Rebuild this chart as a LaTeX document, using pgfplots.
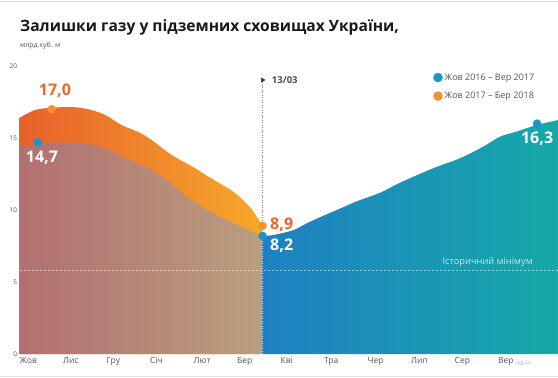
\documentclass[border=0pt]{standalone}
\usepackage{fontspec}
\setmainfont{Open Sans}
\usepackage{pgfplots}
\pgfplotsset{compat=1.18}
\definecolor{oL}{HTML}{E8602B}
\definecolor{oR}{HTML}{F6A82A}
\definecolor{brL}{HTML}{B27070}
\definecolor{brR}{HTML}{B99F7E}
\definecolor{bL}{HTML}{1E80C3}
\definecolor{bR}{HTML}{16A9A8}
\definecolor{dotB}{HTML}{1A96C6}
\definecolor{dotO}{HTML}{F2922E}
\definecolor{lblO}{HTML}{E8672C}
\definecolor{txt}{HTML}{555555}
\begin{document}
\begin{tikzpicture}
\path[use as bounding box] (0,0) rectangle (558bp,378bp);
\draw[gray!25, line width=1bp] (0,376.5bp) -- (558bp,376.5bp);
\draw[gray!25, line width=1bp] (0,1.5bp) -- (558bp,1.5bp);
\node[anchor=base west, inner sep=0pt, font=\bfseries\fontsize{15.6bp}{17bp}\selectfont, text=black!90] at (20bp,346bp) {Залишки газу у підземних сховищах України,};
\node[anchor=base west, inner sep=0pt, font=\fontsize{7bp}{8bp}\selectfont, text=txt] at (20bp,330bp) {млрд куб. м};
\begin{axis}[
  at={(19.5bp,24bp)}, anchor=south west,
  scale only axis, width=538.5bp, height=292bp,
  xmin=0, xmax=12.38, ymin=0, ymax=20.28,
  axis line style={draw=none}, tick style={draw=none},
  clip=false,
  /pgf/number format/assume math mode=true,
  ytick={0,5,10,15,20},
  yticklabel style={font=\fontsize{6.5bp}{7bp}\selectfont, text=txt, xshift=1bp},
  xtick={0,1,2,3,4,5,6,7,8,9,10,11},
  xticklabels={Жов,Лис,Гру,Січ,Лют,Бер,Кві,Тра,Чер,Лип,Сер,Вер},
  xticklabel style={font=\fontsize{8.5bp}{10bp}\selectfont, text=txt, anchor=north west, inner sep=0pt, yshift=-3.5bp},
  legend style={at={(0.768,0.968)}, anchor=north west, draw=none, fill=none,
     font=\fontsize{9bp}{10bp}\selectfont, text=txt, row sep=6.5bp, inner sep=0pt,
     legend cell align=left},
  legend image code/.code={\fill[#1] (0.25cm,0) circle (4.5bp);},
]
% orange 2017-2018
\addplot[draw=none, left color=oL, right color=oR, smooth, tension=0.55, forget plot] coordinates {
(0,16.4) (0.36,16.95) (0.74,17.1) (1.2,17.15) (1.58,17.0) (1.97,16.6) (2.35,15.9) (2.81,15.3) (3.11,14.7) (3.46,13.9) (3.8,13.3) (4.07,12.85) (4.3,12.4) (4.69,11.7) (4.99,11.1) (5.3,10.2) (5.45,9.55) (5.59,8.9)
} \closedcycle;
% brown 2016-2017 (to 13/03)
\addplot[draw=none, left color=brL, right color=brR, smooth, tension=0.55, forget plot] coordinates {
(0,14.4) (0.36,14.55) (0.82,14.7) (1.43,14.63) (1.74,14.5) (2.04,14.17) (2.43,13.6) (2.96,12.9) (3.2,12.45) (3.46,11.9) (3.77,11.1) (4.15,10.3) (4.53,9.65) (4.91,9.1) (5.22,8.65) (5.45,8.35) (5.59,8.2)
} \closedcycle;
% blue 2016-2017 (after 13/03)
\addplot[draw=none, left color=bL, right color=bR, smooth, tension=0.55, forget plot] coordinates {
(5.59,8.2) (5.83,8.26) (6.29,8.6) (6.6,9.07) (6.91,9.5) (7.37,10.1) (7.75,10.6) (8.29,11.2) (8.75,11.9) (9.51,12.9) (10.13,13.6) (10.66,14.4) (11.05,15.1) (11.43,15.45) (11.89,15.9) (12.38,16.25)
} \closedcycle;
% historic minimum
\addplot[white, opacity=0.55, line width=0.7bp, dash pattern=on 2bp off 2bp, forget plot] coordinates {(0,5.83) (12.38,5.83)};
% 13/03 line
\addplot[white, opacity=0.7, line width=0.8bp, dash pattern=on 1bp off 1.5bp, forget plot] coordinates {(5.59,0) (5.59,8.2)};
\addplot[gray, line width=0.8bp, dash pattern=on 1bp off 1.5bp, forget plot] coordinates {(5.59,8.9) (5.59,18.9)};
\addplot[only marks, mark=triangle*, mark size=2.2bp, mark options={rotate=-90, fill=black!70, draw=none}, forget plot] coordinates {(5.59,19.03)};
% dots
\addplot[only marks, mark=*, mark size=4bp, dotB, forget plot] coordinates {(0.42,14.7) (5.59,8.2) (11.9,16.0)};
\addplot[only marks, mark=*, mark size=4bp, dotO, forget plot] coordinates {(0.74,17.0) (5.59,8.9)};
\addlegendimage{dotB}
\addlegendentry{Жов 2016 – Вер 2017}
\addlegendimage{dotO}
\addlegendentry{Жов 2017 – Бер 2018}
% labels
\node[font=\bfseries\fontsize{16bp}{18bp}\selectfont, text=lblO] at (axis cs:0.816,18.26) {17,0};
\node[font=\bfseries\fontsize{16bp}{18bp}\selectfont, text=white] at (axis cs:0.517,13.6) {14,7};
\node[anchor=west, inner sep=0pt, font=\bfseries\fontsize{16bp}{18bp}\selectfont, text=lblO] at (axis cs:5.76,8.96) {8,9};
\node[anchor=west, inner sep=0pt, font=\bfseries\fontsize{16bp}{18bp}\selectfont, text=white] at (axis cs:5.76,7.5) {8,2};
\node[font=\bfseries\fontsize{16bp}{18bp}\selectfont, text=white] at (axis cs:11.9,14.93) {16,3};
\node[anchor=west, inner sep=0pt, font=\bfseries\fontsize{9.5bp}{10bp}\selectfont, text=black!70] at (axis cs:5.80,19.03) {13/03};
\node[anchor=east, inner sep=0pt, font=\fontsize{9.3bp}{10bp}\selectfont, text=white, opacity=0.75] at (axis cs:11.8,6.39) {Історичний мінімум};
\node[anchor=east, inner sep=0pt, font=\fontsize{5bp}{6bp}\selectfont, text=black!30] at (axis cs:11.76,-0.69) {ugg.ua};
\end{axis}
\end{tikzpicture}
\end{document}
